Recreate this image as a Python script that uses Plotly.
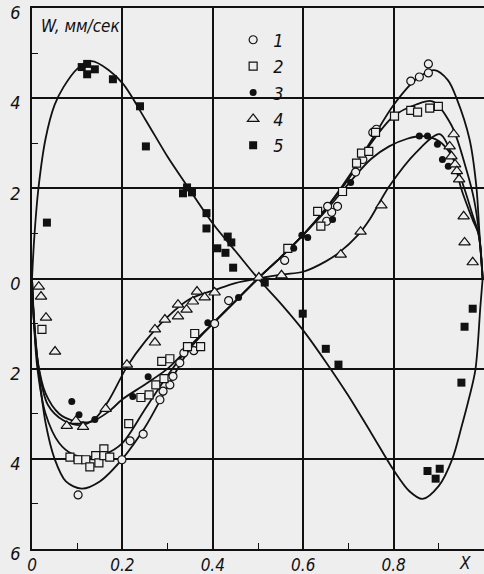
import plotly.graph_objects as go

# ---- fitted curves ----
c1_x = [0, 0.004, 0.014, 0.03, 0.05, 0.075, 0.11, 0.15, 0.2, 0.25, 0.3, 0.35, 0.4, 0.45, 0.5, 0.55, 0.6, 0.65, 0.7, 0.75, 0.8, 0.85, 0.89, 0.92, 0.94, 0.968, 0.983, 0.99, 0.997]
c1_y = [0, -0.9, -2.0, -3.2, -4.0, -4.5, -4.66, -4.5, -4.0, -3.3, -2.4, -1.55, -1.0, -0.5, 0, 0.47, 0.97, 1.55, 2.25, 3.05, 3.85, 4.42, 4.62, 4.4, 3.98, 3.09, 2.05, 1.0, 0]

c2_x = [0, 0.004, 0.012, 0.03, 0.06, 0.09, 0.12, 0.16, 0.2, 0.25, 0.3, 0.35, 0.4, 0.45, 0.5, 0.55, 0.6, 0.65, 0.7, 0.75, 0.8, 0.85, 0.886, 0.928, 0.96, 0.978, 0.989, 0.997]
c2_y = [0, -0.9, -2.0, -3.0, -3.65, -3.9, -3.96, -3.9, -3.65, -2.9, -2.15, -1.5, -1.0, -0.5, 0, 0.47, 0.97, 1.55, 2.2, 3.0, 3.6, 3.86, 3.93, 3.4, 2.45, 1.75, 1.0, 0]

c3_x = [0, 0.004, 0.012, 0.03, 0.06, 0.09, 0.13, 0.17, 0.2, 0.25, 0.3, 0.35, 0.4, 0.45, 0.5, 0.55, 0.6, 0.65, 0.7, 0.75, 0.79, 0.83, 0.864, 0.9, 0.93, 0.957, 0.975, 0.988, 0.997]
c3_y = [0, -0.9, -1.8, -2.55, -3.0, -3.15, -3.18, -2.95, -2.68, -2.35, -2.0, -1.5, -1.0, -0.5, 0, 0.47, 0.97, 1.5, 2.1, 2.65, 2.93, 3.1, 3.16, 3.05, 2.7, 1.98, 1.4, 0.98, 0]

c4_x = [0, 0.004, 0.015, 0.035, 0.07, 0.11, 0.14, 0.17, 0.21, 0.25, 0.3, 0.35, 0.408, 0.45, 0.5, 0.555, 0.6, 0.65, 0.68, 0.72, 0.747, 0.79, 0.85, 0.902, 0.93, 0.95, 0.975, 0.988, 0.997]
c4_y = [0, -0.8, -2.0, -2.8, -3.15, -3.25, -3.1, -2.7, -1.96, -1.4, -0.85, -0.45, -0.24, -0.1, 0, 0.09, 0.15, 0.38, 0.58, 0.95, 1.31, 2.04, 2.8, 3.2, 2.71, 1.98, 1.3, 0.98, 0]

c5_x = [0, 0.005, 0.014, 0.03, 0.05, 0.07, 0.1, 0.132, 0.17, 0.202, 0.25, 0.3, 0.338, 0.4, 0.45, 0.5, 0.55, 0.6, 0.65, 0.7, 0.75, 0.8, 0.835, 0.864, 0.9, 0.93, 0.95, 0.966, 0.981, 0.992, 0.997]
c5_y = [0, 0.9, 1.98, 3.1, 3.85, 4.25, 4.65, 4.82, 4.62, 4.31, 3.54, 2.7, 2.13, 1.22, 0.61, 0, -0.55, -1.15, -1.85, -2.6, -3.42, -4.25, -4.72, -4.89, -4.6, -4.0, -3.3, -2.69, -2.02, -0.62, 0]

# ---- experimental points ----
s1_x = [0.102, 0.199, 0.217, 0.246, 0.283, 0.29, 0.305, 0.312, 0.327, 0.336, 0.358, 0.404, 0.435, 0.559, 0.652, 0.663, 0.654, 0.676, 0.716, 0.732, 0.754, 0.762, 0.838, 0.857, 0.877, 0.877]
s1_y = [-4.80, -4.02, -3.60, -3.45, -2.69, -2.5, -2.36, -2.17, -1.87, -1.65, -1.60, -1.0, -0.49, 0.40, 1.27, 1.47, 1.60, 1.60, 2.36, 2.64, 3.24, 3.31, 4.38, 4.47, 4.56, 4.76]

s2_x = [0.022, 0.084, 0.102, 0.119, 0.128, 0.141, 0.148, 0.159, 0.159, 0.172, 0.214, 0.241, 0.259, 0.274, 0.292, 0.287, 0.305, 0.344, 0.360, 0.373, 0.566, 0.632, 0.639, 0.687, 0.718, 0.729, 0.745, 0.760, 0.802, 0.838, 0.853, 0.880, 0.899]
s2_y = [-1.13, -3.96, -4.02, -4.02, -4.18, -3.93, -4.09, -3.78, -3.93, -3.96, -3.22, -2.64, -2.58, -2.36, -2.22, -1.84, -1.78, -1.51, -1.22, -1.51, 0.67, 1.49, 1.16, 1.93, 2.56, 2.78, 2.82, 3.24, 3.60, 3.73, 3.69, 3.78, 3.82]

s3_x = [0.088, 0.104, 0.139, 0.223, 0.257, 0.389, 0.457, 0.579, 0.597, 0.61, 0.665, 0.705, 0.857, 0.875, 0.897, 0.908, 0.921]
s3_y = [-2.73, -3.02, -3.13, -2.62, -2.18, -0.98, -0.42, 0.67, 0.96, 0.91, 1.31, 2.13, 3.16, 3.16, 2.98, 2.64, 2.49]

s4_x = [0.015, 0.02, 0.031, 0.051, 0.077, 0.097, 0.113, 0.163, 0.21, 0.272, 0.272, 0.294, 0.323, 0.323, 0.342, 0.356, 0.365, 0.382, 0.404, 0.502, 0.552, 0.683, 0.727, 0.773, 0.933, 0.924, 0.928, 0.936, 0.94, 0.945, 0.955, 0.957, 0.975]
s4_y = [-0.18, -0.4, -0.87, -1.62, -3.27, -3.16, -3.29, -2.89, -1.91, -1.42, -1.13, -0.91, -0.84, -0.58, -0.69, -0.51, -0.29, -0.42, -0.31, 0.02, 0.07, 0.53, 1.04, 1.62, 3.2, 2.93, 2.71, 2.53, 2.38, 2.2, 1.38, 0.8, 0.36]

s5_x = [0.110, 0.122, 0.139, 0.122, 0.179, 0.239, 0.252, 0.343, 0.334, 0.354, 0.033, 0.386, 0.386, 0.433, 0.441, 0.410, 0.428, 0.445, 0.515, 0.599, 0.650, 0.678, 0.975, 0.957, 0.950, 0.875, 0.902, 0.893]
s5_y = [4.69, 4.76, 4.64, 4.53, 4.42, 3.82, 2.93, 2.02, 1.89, 1.91, 1.24, 1.45, 1.11, 0.93, 0.80, 0.67, 0.57, 0.24, -0.09, -0.78, -1.56, -1.91, -0.67, -1.07, -2.31, -4.27, -4.22, -4.44]

series_names = ["1", "2", "3", "4", "5"]
x_tickvals = [0, 0.2, 0.4, 0.6, 0.8]
x_ticktext = ["0", "0.2", "0.4", "0.6", "0.8"]
y_tickvals = [-6, -4, -2, 0, 2, 4, 6]
y_ticktext = ["6", "4", "2", "0", "2", "4", "6"]
y_title = "W, мм/сек"
x_title = "X"

BG = "#eeeeee"
INK = "#111111"
FONT = "DejaVu Sans Condensed, DejaVu Sans, sans-serif"

fig = go.Figure()

curves = [(c1_x, c1_y), (c2_x, c2_y), (c3_x, c3_y), (c4_x, c4_y), (c5_x, c5_y)]
for cx, cy in curves:
    fig.add_trace(go.Scatter(x=cx, y=cy, mode="lines", showlegend=False,
                             line=dict(color=INK, width=1.8, shape="spline", smoothing=0.9),
                             hoverinfo="skip"))

marker_styles = [
    dict(symbol="circle", size=8, color=BG, line=dict(color=INK, width=1.2)),
    dict(symbol="square", size=8, color=BG, line=dict(color=INK, width=1.2)),
    dict(symbol="circle", size=7, color=INK, line=dict(color=INK, width=0)),
    dict(symbol="triangle-up", size=10, color=BG, line=dict(color=INK, width=1.2)),
    dict(symbol="square", size=8, color=INK, line=dict(color=INK, width=0)),
]
points = [(s1_x, s1_y), (s2_x, s2_y), (s3_x, s3_y), (s4_x, s4_y), (s5_x, s5_y)]
for (px, py), name, ms in zip(points, series_names, marker_styles):
    fig.add_trace(go.Scatter(x=px, y=py, mode="markers", name=name, marker=ms, cliponaxis=False))

fig.update_layout(
    width=484, height=574,
    margin=dict(l=32, r=0, t=8, b=25, autoexpand=False),
    paper_bgcolor=BG, plot_bgcolor=BG,
    font=dict(family=FONT, color=INK, size=16, style="italic"),
    legend=dict(x=0.445, y=0.975, xanchor="left", yanchor="top",
                bgcolor="rgba(0,0,0,0)", font=dict(size=18, style="italic", family=FONT),
                tracegroupgap=0, itemwidth=30),
    xaxis=dict(range=[0, 1.0], tickvals=x_tickvals, ticktext=x_ticktext, automargin=False,
               showgrid=True, gridcolor=INK, gridwidth=1.5,
               showline=True, linecolor=INK, linewidth=1.8, mirror=True,
               zeroline=False, ticks="", ticklabeloverflow="allow",
               minor=dict(tickvals=[0.1, 0.3, 0.5, 0.7, 0.9], ticks="inside", ticklen=6,
                          tickwidth=1.2, tickcolor=INK, showgrid=False),
               tickfont=dict(size=17, style="italic", family=FONT)),
    yaxis=dict(range=[-6, 6], tickvals=y_tickvals, ticktext=y_ticktext, automargin=False,
               showgrid=True, gridcolor=INK, gridwidth=1.5,
               showline=True, linecolor=INK, linewidth=1.8, mirror=False,
               zeroline=False, ticks="", ticklabeloverflow="allow",
               ticklabelshift=5, ticklabelstandoff=6,
               minor=dict(tickvals=[-5, -3, -1, 1, 3, 5], ticks="inside", ticklen=6,
                          tickwidth=1.2, tickcolor=INK, showgrid=False),
               tickfont=dict(size=18, style="italic", family=FONT)),
)

fig.add_annotation(x=0.016, y=5.6, xref="x", yref="y", text=y_title, showarrow=False,
                   xanchor="left", yanchor="middle",
                   font=dict(size=17, style="italic", family=FONT, color=INK))
fig.add_annotation(x=0.957, y=0, xref="x", yref="paper", text=x_title, showarrow=False,
                   xanchor="center", yanchor="top", yshift=-2,
                   font=dict(size=17, style="italic", family=FONT, color=INK))

fig.write_html("out.html", config={"displayModeBar": False},
               post_script="document.body.style.margin='0';")
